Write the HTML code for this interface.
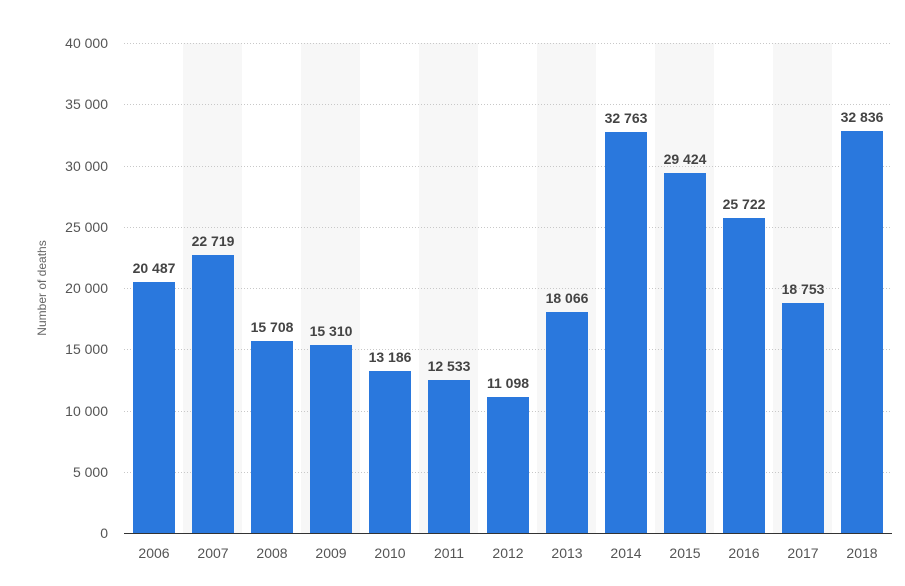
<!DOCTYPE html>
<html><head><meta charset="utf-8"><style>
body{margin:0;background:#fff;}
svg{display:block;font-family:"Liberation Sans",sans-serif;}
</style></head><body>
<svg width="905" height="586" viewBox="0 0 905 586">
<g fill="#f7f7f7">
<rect x="183" y="43" width="59" height="490"/>
<rect x="301" y="43" width="59" height="490"/>
<rect x="419" y="43" width="59" height="490"/>
<rect x="537" y="43" width="59" height="490"/>
<rect x="655" y="43" width="59" height="490"/>
<rect x="773" y="43" width="59" height="490"/>
</g>
<g stroke="#c8c8c8" stroke-dasharray="1,2" stroke-width="1">
<line x1="124" x2="892" y1="43.5" y2="43.5"/>
<line x1="124" x2="892" y1="104.5" y2="104.5"/>
<line x1="124" x2="892" y1="166.5" y2="166.5"/>
<line x1="124" x2="892" y1="227.5" y2="227.5"/>
<line x1="124" x2="892" y1="288.5" y2="288.5"/>
<line x1="124" x2="892" y1="349.5" y2="349.5"/>
<line x1="124" x2="892" y1="411.5" y2="411.5"/>
<line x1="124" x2="892" y1="472.5" y2="472.5"/>
</g>
<g font-size="14" fill="#555" text-anchor="end">
<text x="108" y="48">40 000</text>
<text x="108" y="109">35 000</text>
<text x="108" y="171">30 000</text>
<text x="108" y="232">25 000</text>
<text x="108" y="293">20 000</text>
<text x="108" y="354">15 000</text>
<text x="108" y="416">10 000</text>
<text x="108" y="477">5 000</text>
<text x="108" y="538">0</text>
</g>
<text transform="translate(46,288) rotate(-90)" font-size="12" fill="#666" text-anchor="middle">Number of deaths</text>
<g fill="#2a78dd">
<rect x="133" y="282" width="42" height="251"/>
<rect x="192" y="255" width="42" height="278"/>
<rect x="251" y="341" width="42" height="192"/>
<rect x="310" y="345" width="42" height="188"/>
<rect x="369" y="371" width="42" height="162"/>
<rect x="428" y="380" width="42" height="153"/>
<rect x="487" y="397" width="42" height="136"/>
<rect x="546" y="312" width="42" height="221"/>
<rect x="605" y="132" width="42" height="401"/>
<rect x="664" y="173" width="42" height="360"/>
<rect x="723" y="218" width="42" height="315"/>
<rect x="782" y="303" width="42" height="230"/>
<rect x="841" y="131" width="42" height="402"/>
</g>
<line x1="124" x2="892" y1="533.5" y2="533.5" stroke="#333" stroke-width="1"/>
<g font-size="14" font-weight="bold" fill="#444" text-anchor="middle">
<text x="154" y="273">20 487</text>
<text x="213" y="246">22 719</text>
<text x="272" y="332">15 708</text>
<text x="331" y="336">15 310</text>
<text x="390" y="362">13 186</text>
<text x="449" y="371">12 533</text>
<text x="508" y="388">11 098</text>
<text x="567" y="303">18 066</text>
<text x="626" y="123">32 763</text>
<text x="685" y="164">29 424</text>
<text x="744" y="209">25 722</text>
<text x="803" y="294">18 753</text>
<text x="862" y="122">32 836</text>
</g>
<g font-size="14" fill="#555" text-anchor="middle">
<text x="154" y="558">2006</text><text x="213" y="558">2007</text><text x="272" y="558">2008</text>
<text x="331" y="558">2009</text><text x="390" y="558">2010</text><text x="449" y="558">2011</text>
<text x="508" y="558">2012</text><text x="567" y="558">2013</text><text x="626" y="558">2014</text>
<text x="685" y="558">2015</text><text x="744" y="558">2016</text><text x="803" y="558">2017</text>
<text x="862" y="558">2018</text>
</g>
</svg>
</body></html>
